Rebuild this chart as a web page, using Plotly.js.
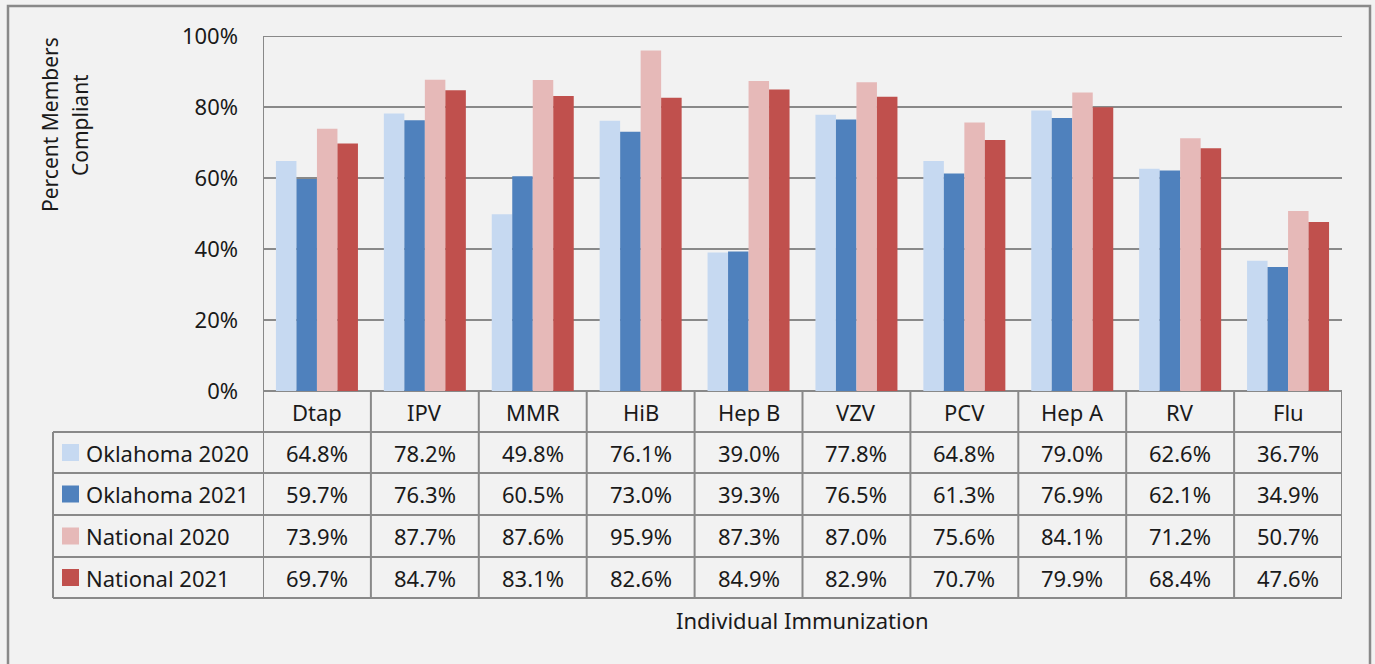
<!DOCTYPE html>
<html>
<head>
<meta charset="utf-8">
<script src="https://cdn.plot.ly/plotly-3.0.1.min.js"></script>
<style>html,body{margin:0;padding:0;background:#f2f2f2;}#chart{width:1375px;height:664px;}</style>
</head>
<body>
<div id="chart"></div>
<script>
// ---- data ----
const categories = ["Dtap","IPV","MMR","HiB","Hep B","VZV","PCV","Hep A","RV","Flu"];
const seriesNames = ["Oklahoma 2020","Oklahoma 2021","National 2020","National 2021"];
const oklahoma2020 = [64.8, 78.2, 49.8, 76.1, 39.0, 77.8, 64.8, 79.0, 62.6, 36.7];
const oklahoma2021 = [59.7, 76.3, 60.5, 73.0, 39.3, 76.5, 61.3, 76.9, 62.1, 34.9];
const national2020 = [73.9, 87.7, 87.6, 95.9, 87.3, 87.0, 75.6, 84.1, 71.2, 50.7];
const national2021 = [69.7, 84.7, 83.1, 82.6, 84.9, 82.9, 70.7, 79.9, 68.4, 47.6];
const yTickVals = [0, 20, 40, 60, 80, 100];
const yTitleLines = ["Percent Members", "Compliant"];
const xTitle = "Individual Immunization";

// ---- styling ----
const colors = ["#c6d9f1", "#4f81bd", "#e6b9b8", "#c0504d"];
const seriesValues = [oklahoma2020, oklahoma2021, national2020, national2021];
const FONT = "Noto Sans, Open Sans, sans-serif";
const TXT = "#1a1a1a";
const LINE = "#898989";

const W = 1375, H = 664;
const L = 263, R = 1342, T = 36, B = 391;
const px2x = p => (p - L) / (R - L);
const py2y = p => (B - p) / (B - T);

const traces = seriesValues.map((vals, i) => ({
  type: "bar",
  x: categories,
  y: vals,
  name: seriesNames[i],
  marker: { color: colors[i], line: { width: 0 } },
  hoverinfo: "x+y+name"
}));

// table geometry (pixel rows)
const headerTop = 392, headerBot = 432;
const rowBounds = [432, 473, 515, 557, 598];
const labelLeft = 53;

const shapes = [];
const annotations = [];

// outer chart border
shapes.push({ type: "rect", xref: "paper", yref: "paper",
  x0: px2x(8), x1: px2x(1370), y0: py2y(700), y1: py2y(6),
  line: { color: LINE, width: 2.5 }, fillcolor: "rgba(0,0,0,0)", layer: "below" });

// top (100%) gridline
shapes.push({ type: "line", xref: "paper", yref: "y",
  x0: 0, x1: 1, y0: 100, y1: 100, line: { color: LINE, width: 2 } });

// vertical axis / column lines
for (let i = 0; i <= categories.length; i++) {
  shapes.push({ type: "line", xref: "x", yref: "paper",
    x0: i - 0.5, x1: i - 0.5,
    y0: py2y(rowBounds[rowBounds.length - 1]), y1: i === 0 ? 1 : py2y(headerTop),
    line: { color: LINE, width: 2 } });
}
// left border of label column
shapes.push({ type: "line", xref: "paper", yref: "paper",
  x0: px2x(labelLeft), x1: px2x(labelLeft),
  y0: py2y(rowBounds[0]), y1: py2y(rowBounds[rowBounds.length - 1]),
  line: { color: LINE, width: 2 } });
// horizontal row lines
rowBounds.forEach(yb => {
  shapes.push({ type: "line", xref: "paper", yref: "paper",
    x0: px2x(labelLeft), x1: 1, y0: py2y(yb), y1: py2y(yb),
    line: { color: LINE, width: 2 } });
});

// header text
categories.forEach((c, i) => {
  annotations.push({ xref: "x", yref: "paper", x: c, y: py2y((headerTop + headerBot) / 2),
    text: c, showarrow: false, xanchor: "center", yanchor: "middle",
    font: { family: FONT, size: 22, color: TXT } });
});

// body rows
seriesValues.forEach((vals, r) => {
  const yc = py2y((rowBounds[r] + rowBounds[r + 1]) / 2);
  // legend swatch
  shapes.push({ type: "rect", xref: "paper", yref: "paper",
    x0: px2x(62), x1: px2x(79), y0: yc - 8.5 / (B - T), y1: yc + 8.5 / (B - T),
    fillcolor: colors[r], line: { width: 0 } });
  annotations.push({ xref: "paper", yref: "paper", x: px2x(84), y: yc,
    text: seriesNames[r], showarrow: false, xanchor: "left", yanchor: "middle",
    font: { family: FONT, size: 22, color: TXT } });
  vals.forEach((v, i) => {
    annotations.push({ xref: "x", yref: "paper", x: categories[i], y: yc,
      text: v.toFixed(1) + "%", showarrow: false, xanchor: "center", yanchor: "middle",
      font: { family: FONT, size: 22, color: TXT } });
  });
});

// axis titles
const yTitleX = [50, 80];
yTitleLines.forEach((t, k) => {
  annotations.push({ xref: "paper", yref: "paper", x: px2x(yTitleX[k]), y: py2y(125),
    text: t, textangle: -90, showarrow: false, xanchor: "center", yanchor: "middle",
    font: { family: FONT, size: 21, color: TXT } });
});
annotations.push({ xref: "paper", yref: "paper", x: px2x(802), y: py2y(620),
  text: xTitle, showarrow: false, xanchor: "center", yanchor: "middle",
  font: { family: FONT, size: 22, color: TXT } });

const layout = {
  width: W, height: H,
  margin: { l: L, r: W - R, t: T, b: H - B, pad: 0 },
  paper_bgcolor: "#f2f2f2",
  plot_bgcolor: "#f2f2f2",
  barmode: "group",
  bargap: 0.24,
  bargroupgap: 0,
  showlegend: false,
  xaxis: { type: "category", range: [-0.5, categories.length - 0.5],
    showticklabels: false, showgrid: false, zeroline: false, showline: false, ticks: "" },
  yaxis: { range: [0, 100], tickvals: yTickVals, ticktext: yTickVals.map(v => v + "%"),
    showgrid: true, gridcolor: LINE, gridwidth: 2,
    zeroline: true, zerolinecolor: LINE, zerolinewidth: 2,
    showline: false, ticks: "", ticklabelstandoff: 24,
    tickfont: { family: FONT, size: 22, color: TXT } },
  shapes: shapes,
  annotations: annotations
};

Plotly.newPlot("chart", traces, layout, { displayModeBar: false, staticPlot: true });
</script>
</body>
</html>
